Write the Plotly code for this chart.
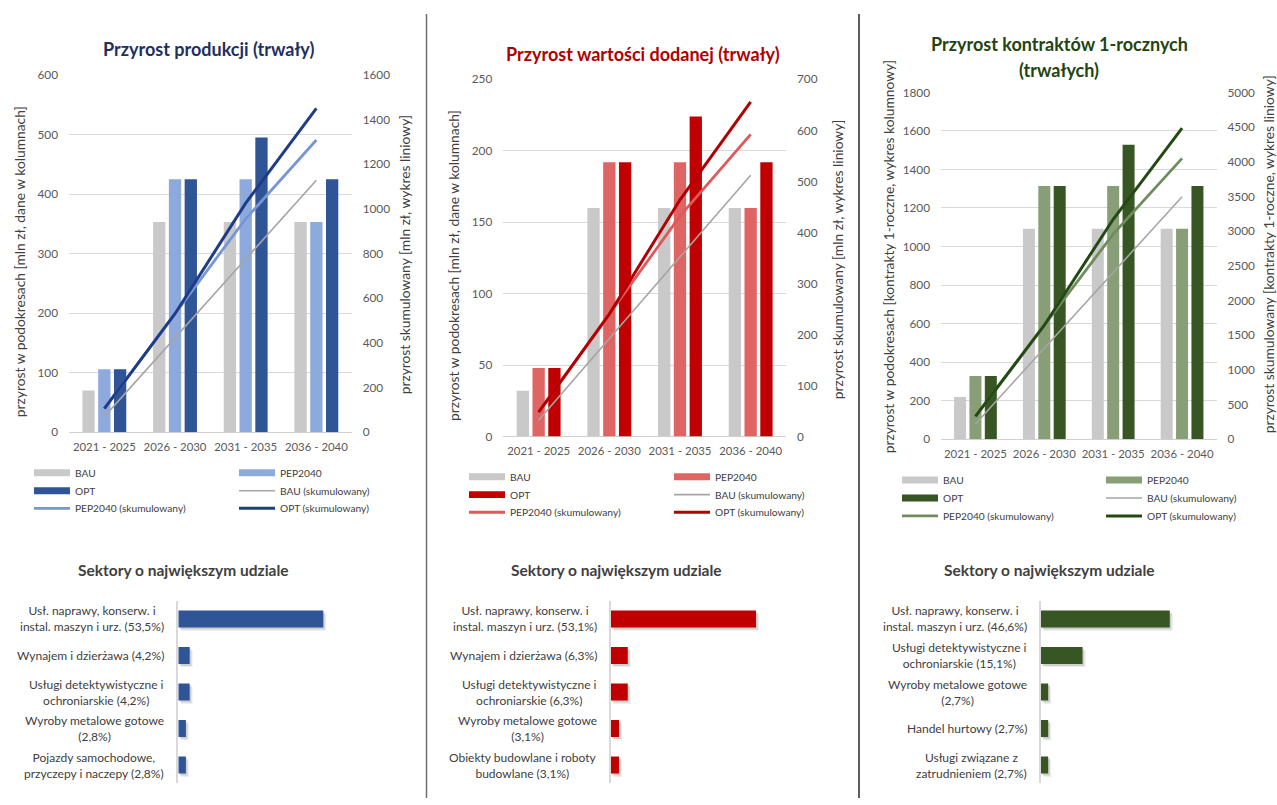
import plotly.graph_objects as go

W, H = 1277, 805
FONT = "Lato"

# ---- data -------------------------------------------------------------
periods = ["2021 - 2025", "2026 - 2030", "2031 - 2035", "2036 - 2040"]

# Przyrost produkcji [mln zł]
prod_bau = [70, 353, 353, 353]
prod_pep = [106, 425, 425, 353]
prod_opt = [106, 425, 495, 425]
prod_bau_cum = [70, 423, 776, 1129]
prod_pep_cum = [106, 531, 956, 1309]
prod_opt_cum = [106, 531, 1026, 1451]

# Przyrost wartości dodanej [mln zł]
va_bau = [32, 160, 160, 160]
va_pep = [48, 192, 192, 160]
va_opt = [48, 192, 224, 192]
va_bau_cum = [32, 192, 352, 512]
va_pep_cum = [48, 240, 432, 592]
va_opt_cum = [48, 240, 464, 656]

# Przyrost kontraktów 1-rocznych
ct_bau = [219, 1092, 1092, 1092]
ct_pep = [328, 1314, 1314, 1092]
ct_opt = [328, 1314, 1528, 1314]
ct_bau_cum = [219, 1311, 2403, 3495]
ct_pep_cum = [328, 1642, 2956, 4048]
ct_opt_cum = [328, 1642, 3170, 4484]

# Sektory o największym udziale [%]
prod_sectors = ["Usł. naprawy, konserw. i<br>instal. maszyn i urz. (53,5%)",
                "Wynajem i dzierżawa (4,2%)",
                "Usługi detektywistyczne i<br>ochroniarskie (4,2%)",
                "Wyroby metalowe gotowe<br>(2,8%)",
                "Pojazdy samochodowe,<br>przyczepy i naczepy (2,8%)"]
prod_shares = [53.5, 4.2, 4.2, 2.8, 2.8]

va_sectors = ["Usł. naprawy, konserw. i<br>instal. maszyn i urz. (53,1%)",
              "Wynajem i dzierżawa (6,3%)",
              "Usługi detektywistyczne i<br>ochroniarskie (6,3%)",
              "Wyroby metalowe gotowe<br>(3,1%)",
              "Obiekty budowlane i roboty<br>budowlane (3,1%)"]
va_shares = [53.1, 6.3, 6.3, 3.1, 3.1]

ct_sectors = ["Usł. naprawy, konserw. i<br>instal. maszyn i urz. (46,6%)",
              "Usługi detektywistyczne i<br>ochroniarskie (15,1%)",
              "Wyroby metalowe gotowe<br>(2,7%)",
              "Handel hurtowy (2,7%)",
              "Usługi związane z<br>zatrudnieniem (2,7%)"]
ct_shares = [46.6, 15.1, 2.7, 2.7, 2.7]

legend_names = ["BAU", "PEP2040", "OPT", "BAU (skumulowany)",
                "PEP2040 (skumulowany)", "OPT (skumulowany)"]


def px(v):
    return v / W


def py(v):
    return 1 - v / H


GRAY_BAR = "#c9c9c9"
GRAY_LINE = "#a5a5a5"

panels = [
    dict(title=["Przyrost produkcji (trwały)"], title_y=[42], title_x=209,
         title_color="#1f2f5f",
         bars=(prod_bau, prod_pep, prod_opt),
         cums=(prod_bau_cum, prod_pep_cum, prod_opt_cum),
         bar_colors=(GRAY_BAR, "#8eaadc", "#2f5597"),
         line_colors=(GRAY_LINE, "#7696d6", "#1f3c88"),
         xdom=(69, 351.7), ydom=(68.3, 432.3),
         lmax=600, ldt=100, rmax=1600, rdt=200,
         ltitle="przyrost w podokresach [mln zł, dane w kolumnach]",
         rtitle="przyrost skumulowany [mln zł, wykres liniowy]",
         ltpos=(19, 259), rtpos=(404, 252),
         leg_cols=(34, 239), leg_rows=(473.6, 491.9, 509.8),
         sectors=prod_sectors, shares=prod_shares, sect_color="#2f5597",
         sect_axis=178.3, sect_scale=2.71, sect_title_x=183),
    dict(title=["Przyrost wartości dodanej (trwały)"], title_y=[46.5], title_x=643,
         title_color="#b00000",
         bars=(va_bau, va_pep, va_opt),
         cums=(va_bau_cum, va_pep_cum, va_opt_cum),
         bar_colors=(GRAY_BAR, "#df6464", "#c00000"),
         line_colors=(GRAY_LINE, "#e05858", "#b30000"),
         xdom=(503.3, 786), ydom=(72.7, 436.7),
         lmax=250, ldt=50, rmax=700, rdt=100,
         ltitle="przyrost w podokresach [mln zł, dane w kolumnach]",
         rtitle="przyrost skumulowany [mln zł, wykres liniowy]",
         ltpos=(453, 263), rtpos=(837, 256),
         leg_cols=(469, 674), leg_rows=(477.6, 495.9, 513.8),
         sectors=va_sectors, shares=va_shares, sect_color="#c00000",
         sect_axis=610.5, sect_scale=2.74, sect_title_x=616),
    dict(title=["Przyrost kontraktów 1-rocznych", "(trwałych)"], title_y=[37, 63],
         title_x=1059, title_color="#234411",
         bars=(ct_bau, ct_pep, ct_opt),
         cums=(ct_bau_cum, ct_pep_cum, ct_opt_cum),
         bar_colors=(GRAY_BAR, "#879e76", "#375623"),
         line_colors=(GRAY_LINE, "#6f8c5c", "#234a14"),
         xdom=(941, 1216.5), ydom=(86, 439.3),
         lmax=1800, ldt=200, rmax=5000, rdt=500,
         ltitle="przyrost w podokresach [kontrakty 1-roczne, wykres kolumnowy]",
         rtitle="przyrost skumulowany [kontrakty 1-roczne, wykres liniowy]",
         ltpos=(888, 254), rtpos=(1268, 251),
         leg_cols=(902, 1106), leg_rows=(481, 499.3, 517.6),
         sectors=ct_sectors, shares=ct_shares, sect_color="#375623",
         sect_axis=1040.7, sect_scale=2.77, sect_title_x=1049),
]

fig = go.Figure()
layout = {}
annotations = []
shapes = []

tick_font = dict(family=FONT, size=11.8, color="#595959")
title_font = dict(family=FONT, size=13.8, color="#404040")
legend_font = dict(family=FONT, size=10.2, color="#404040")

for i, p in enumerate(panels):
    xa = f"x{i + 1}" if i else "x"
    yl_n, yr_n = 2 * i + 1, 2 * i + 2
    yl = f"y{yl_n}" if yl_n > 1 else "y"
    yr = f"y{yr_n}"

    # columns per period
    for vals, col in zip(p["bars"], p["bar_colors"]):
        fig.add_trace(go.Bar(x=periods, y=vals, marker=dict(color=col, line=dict(width=0)),
                             xaxis=xa, yaxis=yl, showlegend=False, hoverinfo="skip"))
    # cumulative lines on the secondary axis
    for vals, col, wdt in zip(p["cums"], p["line_colors"], (1.6, 2.8, 3.0)):
        fig.add_trace(go.Scatter(x=periods, y=vals, mode="lines",
                                 line=dict(color=col, width=wdt),
                                 xaxis=xa, yaxis=yr, showlegend=False, hoverinfo="skip"))

    xdom = [px(p["xdom"][0]), px(p["xdom"][1])]
    ydom = [py(p["ydom"][1]), py(p["ydom"][0])]
    layout[f"xaxis{i + 1}" if i else "xaxis"] = dict(
        domain=xdom, anchor=yl, type="category", showgrid=False, showline=False,
        ticks="", tickangle=0, tickfont=dict(family=FONT, size=11.4, color="#595959"),
        ticklabelstandoff=6, fixedrange=True)
    layout[f"yaxis{yl_n}" if yl_n > 1 else "yaxis"] = dict(
        domain=ydom, anchor=xa, range=[0, p["lmax"]], dtick=p["ldt"], tick0=0,
        showgrid=True, gridcolor="#d9d9d9", gridwidth=1, zeroline=True,
        zerolinecolor="#d0d0d0", zerolinewidth=1, showline=False, ticks="",
        tickfont=tick_font, ticklabelstandoff=10, fixedrange=True)
    layout[f"yaxis{yr_n}"] = dict(
        domain=ydom, anchor=xa, overlaying=yl, side="right",
        range=[0, p["rmax"]], dtick=p["rdt"], tick0=0, showgrid=False,
        zeroline=False, showline=False, ticks="", tickfont=tick_font,
        ticklabelstandoff=10, fixedrange=True)

    # chart title
    for txt, ty in zip(p["title"], p["title_y"]):
        annotations.append(dict(text=f"<b>{txt}</b>", x=px(p["title_x"]), y=py(ty),
                                xref="paper", yref="paper", xanchor="center",
                                yanchor="middle", showarrow=False,
                                font=dict(family=FONT, size=18, color=p["title_color"])))
    # axis titles
    for txt, pos in ((p["ltitle"], p["ltpos"]), (p["rtitle"], p["rtpos"])):
        annotations.append(dict(text=txt, x=px(pos[0]), y=py(pos[1]), xref="paper",
                                yref="paper", xanchor="center", yanchor="middle",
                                textangle=-90, showarrow=False, font=title_font))

    # legend: two columns, three rows
    entries = [
        ("bar", 0, 0, 0, p["bar_colors"][0], 0),
        ("bar", 1, 1, 0, p["bar_colors"][1], 0),
        ("bar", 2, 0, 1, p["bar_colors"][2], 0),
        ("line", 3, 1, 1, p["line_colors"][0], 1.6),
        ("line", 4, 0, 2, p["line_colors"][1], 2.8),
        ("line", 5, 1, 2, p["line_colors"][2], 3.0),
    ]
    for kind, name_i, col, row, color, lw in entries:
        x0 = p["leg_cols"][col]
        yc = p["leg_rows"][row]
        if kind == "bar":
            shapes.append(dict(type="rect", xref="paper", yref="paper",
                               x0=px(x0), x1=px(x0 + 36), y0=py(yc + 3.5), y1=py(yc - 3.5),
                               fillcolor=color, line=dict(width=0)))
        else:
            shapes.append(dict(type="line", xref="paper", yref="paper",
                               x0=px(x0), x1=px(x0 + 36), y0=py(yc), y1=py(yc),
                               line=dict(color=color, width=lw)))
        annotations.append(dict(text=legend_names[name_i], x=px(x0 + 39), y=py(yc),
                                xref="paper", yref="paper", xanchor="left",
                                yanchor="middle", showarrow=False, font=legend_font))

    # ---- sector share bar chart -------------------------------------
    xs_n, ys_n = 4 + i, 7 + i
    xs, ys = f"x{xs_n}", f"y{ys_n}"
    idx = list(range(len(p["sectors"])))
    for alpha, dy, dx in ((0.07, 0.09, 1.1), (0.13, 0.05, 0.6)):
        fig.add_trace(go.Bar(orientation="h", y=idx, x=p["shares"], base=dx,
                             width=0.47, offset=-0.235 + dy,
                             marker=dict(color=f"rgba(0,0,0,{alpha})", line=dict(width=0)),
                             xaxis=xs, yaxis=ys, showlegend=False, hoverinfo="skip"))
    fig.add_trace(go.Bar(orientation="h", y=idx, x=p["shares"], width=0.47, offset=-0.235,
                         marker=dict(color=p["sect_color"], line=dict(width=0)),
                         xaxis=xs, yaxis=ys, showlegend=False, hoverinfo="skip"))
    span = 200
    layout[f"xaxis{xs_n}"] = dict(domain=[px(p["sect_axis"]), px(p["sect_axis"] + span)],
                                  anchor=ys, range=[0, span / p["sect_scale"]],
                                  visible=False, fixedrange=True)
    layout[f"yaxis{ys_n}"] = dict(domain=[py(790), py(604)], anchor=xs,
                                  range=[4.5, -0.5], showticklabels=False, showgrid=False,
                                  zeroline=False, showline=True, linecolor="#d9d9d9",
                                  linewidth=1.5, ticks="", fixedrange=True)
    for k, lab in enumerate(p["sectors"]):
        annotations.append(dict(text=lab, x=px(p["sect_axis"] - 12), y=k, xref="paper",
                                yref=ys, xanchor="right", yanchor="middle", align="center",
                                showarrow=False,
                                font=dict(family=FONT, size=12, color="#404040")))
    annotations.append(dict(text="<b>Sektory o największym udziale</b>",
                            x=px(p["sect_title_x"]), y=py(573), xref="paper", yref="paper",
                            xanchor="center", yanchor="middle", showarrow=False,
                            font=dict(family=FONT, size=15.5, color="#404040")))

# panel separators
shapes.append(dict(type="line", xref="paper", yref="paper", x0=px(426.5), x1=px(426.5),
                   y0=py(6), y1=py(805), line=dict(color="#6f6f6f", width=1.5)))
shapes.append(dict(type="line", xref="paper", yref="paper", x0=px(859), x1=px(859),
                   y0=py(6), y1=py(805), line=dict(color="#262626", width=1.5)))

fig.update_layout(
    width=W, height=H, margin=dict(l=0, r=0, t=0, b=0),
    paper_bgcolor="white", plot_bgcolor="white",
    barmode="group", bargap=0.33, bargroupgap=0.22,
    showlegend=False, annotations=annotations, shapes=shapes,
    font=dict(family=FONT, color="#404040"),
    **layout,
)

fig.write_html("out.html", config={"displayModeBar": False})
